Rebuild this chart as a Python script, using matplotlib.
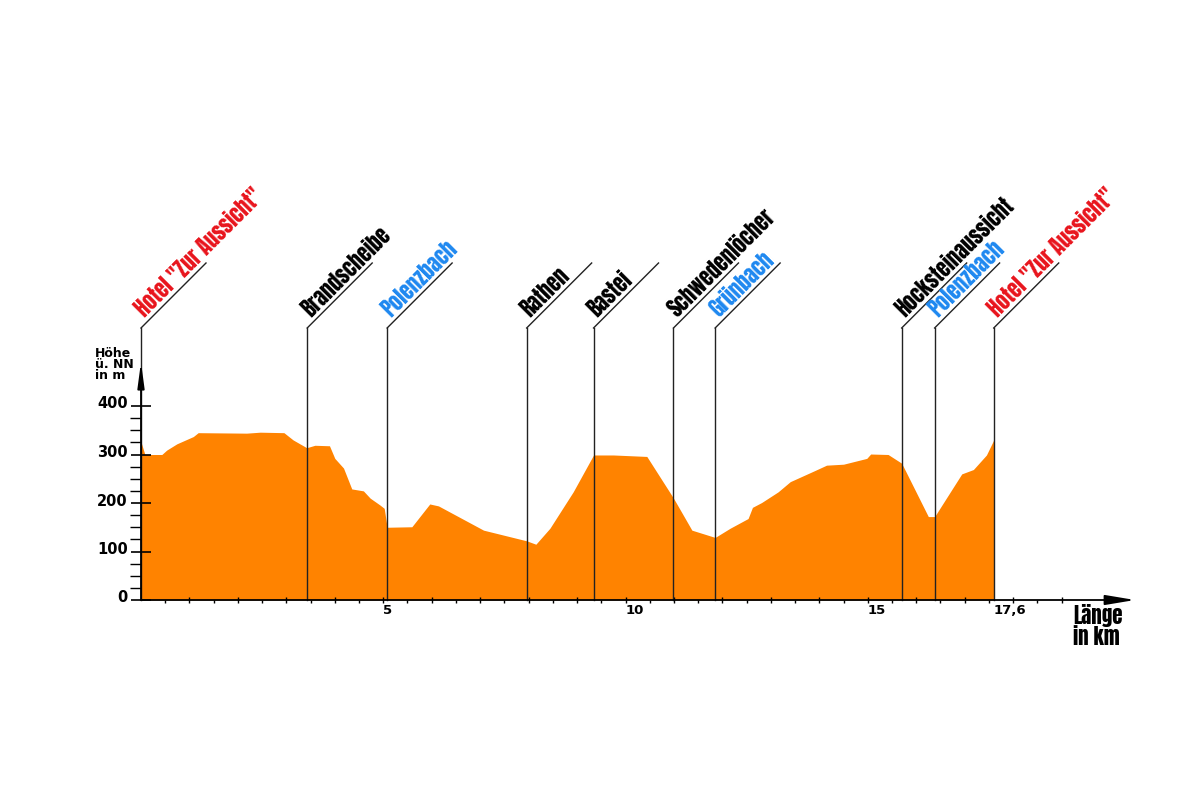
import matplotlib
matplotlib.use("Agg")
import matplotlib.pyplot as plt

# elevation profile (km, m above sea level)
km = [0.0, 0.08, 0.43, 0.53, 0.74, 1.08, 1.18, 2.18, 2.46, 2.95, 3.14, 3.42,
      3.59, 3.89, 4.0, 4.18, 4.35, 4.59, 4.73, 4.93, 5.02, 5.08, 5.59, 5.96,
      6.14, 7.07, 7.96, 8.15, 8.44, 8.92, 9.34, 9.75, 10.44, 10.99, 11.37,
      11.85, 12.16, 12.53, 12.62, 12.81, 13.15, 13.40, 13.91, 14.15, 14.50,
      14.98, 15.06, 15.42, 15.70, 16.25, 16.38, 16.94, 17.18, 17.45, 17.6]
elev = [326, 300, 300, 309, 322, 337, 345, 344, 346, 345, 330, 314,
        319, 318, 292, 272, 229, 225, 210, 196, 189, 150, 151, 198,
        194, 144, 122, 115, 148, 223, 299, 299, 296, 210, 144,
        129, 148, 168, 191, 201, 223, 244, 267, 278, 280,
        292, 301, 300, 282, 172, 172, 260, 269, 299, 330]

# waypoints
stop_km = [0.0, 3.43, 5.08, 7.96, 9.34, 10.99, 11.85, 15.70, 16.38, 17.6]
stop_names = ['Hotel "Zur Aussicht"', "Brandscheibe", "Polenzbach", "Rathen",
              "Bastei", "Schwedenlöcher", "Grünbach", "Hocksteinaussicht",
              "Polenzbach", 'Hotel "Zur Aussicht"']
stop_kind = ["hotel", "place", "water", "place", "place", "place", "water",
             "place", "water", "hotel"]

x_labels = [5, 10, 15, 17.6]
x_label_text = ["5", "10", "15", "17,6"]
y_labels = [0, 100, 200, 300, 400]

kind_color = {"hotel": "#e8141c", "place": "black", "water": "#1e88f0"}
# narrow, heavy face like the original (falls back if missing)
label_font = ["Anton", "Oswald", "Barlow Condensed", "DejaVu Sans"]

# pixel scale of the original drawing
PX_KM = 48.45
PX_M = 0.485

fig = plt.figure(figsize=(12, 8), dpi=100)
x0, y0 = 141, 600          # origin in pixels (from top-left)
x_end, y_top = 1135, 362
ax = fig.add_axes([x0 / 1200, (800 - y0) / 800,
                   (x_end - x0) / 1200, (y0 - y_top) / 800])
ax.set_xlim(0, (x_end - x0) / PX_KM)
ax.set_ylim(0, (y0 - y_top) / PX_M)
ax.patch.set_visible(False)
for s in ax.spines.values():
    s.set_visible(False)

ax.fill_between(km, elev, 0, color="#ff8300", lw=0)

# axes with arrows
ax.annotate("", xy=((x_end - x0) / PX_KM, 0), xytext=(0, 0),
            arrowprops=dict(arrowstyle="-|>,head_length=1.8,head_width=0.3",
                            color="black", lw=1.3, shrinkA=0, shrinkB=0),
            annotation_clip=False)
ax.annotate("", xy=(0, (y0 - y_top) / PX_M), xytext=(0, 0),
            arrowprops=dict(arrowstyle="-|>,head_length=1.5,head_width=0.2",
                            color="black", lw=1.3, shrinkA=0, shrinkB=0),
            annotation_clip=False)

# ticks
ax.set_xticks(range(1, 20))
ax.set_xticks([i + 0.5 for i in range(0, 19)], minor=True)
ax.set_yticks(y_labels)
ax.set_yticks([i * 25 for i in range(1, 16) if i % 4], minor=True)
ax.tick_params(axis="x", which="major", direction="inout", length=5, width=1,
               labelbottom=False)
ax.tick_params(axis="x", which="minor", direction="out", length=2.5, width=1)
ax.tick_params(axis="y", which="major", direction="inout", length=14, width=1.2,
               labelleft=False)
ax.tick_params(axis="y", which="minor", direction="out", length=8, width=1)

for v, t in zip(x_labels, x_label_text):
    ax.text(v, -4 / PX_M, t, ha="left", va="top", fontsize=9.5,
            fontweight="heavy", family="DejaVu Sans")
for v in y_labels:
    ax.text(-13 / PX_KM, v + 2 / PX_M, str(v), ha="right", va="center",
            fontsize=10.5, fontweight="heavy", family="DejaVu Sans")

ax.text(-46 / PX_KM, (y0 - 347) / PX_M, "Höhe\nü. NN\nin m", ha="left",
        va="top", fontsize=9, fontweight="heavy", linespacing=0.8,
        family="DejaVu Sans")
ax.text((1073 - x0) / PX_KM, -4 / PX_M, "Länge\nin km", ha="left", va="top",
        fontsize=15, linespacing=0.95, family=label_font)

# waypoint markers with slanted labels
top = (y0 - 328) / PX_M
diag = 65
for x, name, kind in zip(stop_km, stop_names, stop_kind):
    ax.plot([x, x], [0, top], color="#222222", lw=1, clip_on=False)
    ax.plot([x, x + diag / PX_KM], [top, top + diag / PX_M],
            color="#222222", lw=1, clip_on=False)
    ax.text(x + 4 / PX_KM, top + 10 / PX_M, name, rotation=45,
            rotation_mode="anchor", ha="left", va="baseline",
            fontsize=15, color=kind_color[kind], family=label_font)

fig.savefig("out.png", dpi=100)
